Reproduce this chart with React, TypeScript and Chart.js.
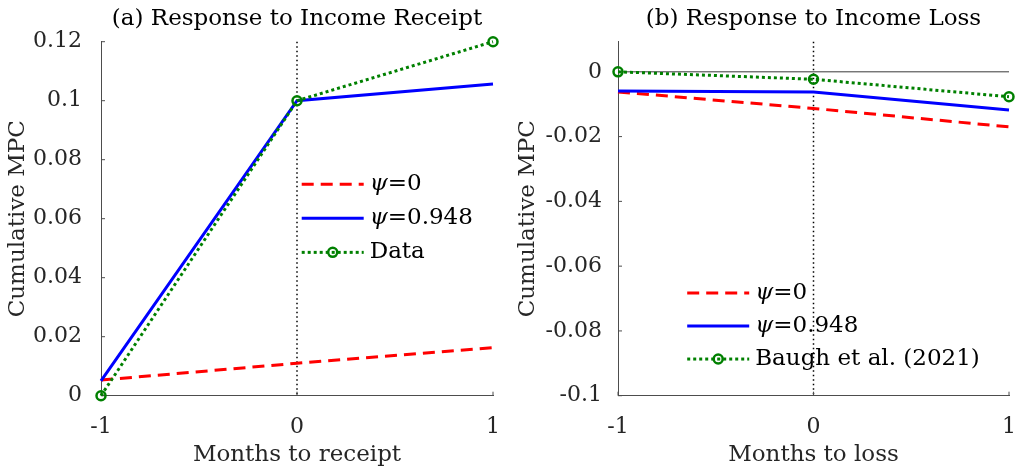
import React, { useEffect, useRef } from 'react';
import { Chart, registerables } from 'chart.js';

Chart.register(...registerables);

// ---------- data ----------
const months = [-1, 0, 1];
const xTicks = [-1, 0, 1];

const receiptPsi0 = [0.0053, 0.011, 0.0163];
const receiptPsi948 = [0.005, 0.1, 0.1057];
const receiptData = [0, 0.1, 0.12];
const receiptYTicks = [0, 0.02, 0.04, 0.06, 0.08, 0.1, 0.12];
const receiptLabels = ['ψ=0', 'ψ=0.948', 'Data'];

const lossPsi0 = [-0.0062, -0.0113, -0.017];
const lossPsi948 = [-0.0059, -0.0062, -0.0118];
const lossBaugh = [0, -0.0023, -0.0077];
const lossYTicks = [0, -0.02, -0.04, -0.06, -0.08, -0.1];
const lossLabels = ['ψ=0', 'ψ=0.948', 'Baugh et al. (2021)'];

// ---------- styles ----------
const FONT = '"DejaVu Serif", serif';
const AXIS_COLOR = '#4d4d4d';
const TEXT_COLOR = '#262626';
const RED = '#ff0000';
const BLUE = '#0000ff';
const GREEN = '#008000';
const W = 508;
const H = 471;

const seriesStyles = [
  { color: RED, dash: [12, 7], width: 3, marker: false },
  { color: BLUE, dash: [], width: 3, marker: false },
  { color: GREEN, dash: [3, 3], width: 3, marker: true },
];

const toPts = (ys: number[]) => months.map((x, i) => ({ x, y: ys[i] }));

const extrasPlugin = {
  id: 'extras',
  beforeDatasetsDraw(chart: any, _args: any, opts: any) {
    const { ctx, chartArea: ca, scales } = chart;
    const x = scales.x;
    const y = scales.y;
    ctx.save();
    if (opts.zeroLine) {
      const py = y.getPixelForValue(0);
      ctx.strokeStyle = '#3a3a3a';
      ctx.lineWidth = 1;
      ctx.beginPath();
      ctx.moveTo(ca.left, py);
      ctx.lineTo(ca.right, py);
      ctx.stroke();
    }
    const px = x.getPixelForValue(0);
    ctx.strokeStyle = '#000';
    ctx.lineWidth = 1.5;
    ctx.setLineDash([1.5, 3]);
    ctx.beginPath();
    ctx.moveTo(px, ca.top);
    ctx.lineTo(px, ca.bottom);
    ctx.stroke();
    ctx.setLineDash([]);
    ctx.strokeStyle = AXIS_COLOR;
    ctx.lineWidth = 1;
    ctx.beginPath();
    for (const t of y.ticks) {
      const ty = y.getPixelForValue(t.value);
      ctx.moveTo(ca.left, ty);
      ctx.lineTo(ca.left + 4, ty);
    }
    for (const t of x.ticks) {
      const tx = x.getPixelForValue(t.value);
      ctx.moveTo(tx, ca.bottom);
      ctx.lineTo(tx, ca.bottom - 4);
    }
    ctx.stroke();
    ctx.restore();
  },
  afterDraw(chart: any, _args: any, opts: any) {
    const { ctx, chartArea: ca } = chart;
    ctx.save();
    ctx.fillStyle = '#000';
    ctx.font = `23px ${FONT}`;
    ctx.textAlign = 'center';
    ctx.textBaseline = 'middle';
    ctx.fillText(opts.title, (ca.left + ca.right) / 2, 19);
    const w = ca.right - ca.left;
    const h = ca.bottom - ca.top;
    const x0 = ca.left + opts.legendX * w;
    const y0 = ca.top + opts.legendY * h;
    opts.labels.forEach((label: string, i: number) => {
      const st = seriesStyles[i];
      const yy = y0 + i * opts.legendGap;
      ctx.strokeStyle = st.color;
      ctx.lineWidth = st.width;
      ctx.setLineDash(st.dash);
      ctx.beginPath();
      ctx.moveTo(x0, yy);
      ctx.lineTo(x0 + 62, yy);
      ctx.stroke();
      ctx.setLineDash([]);
      if (st.marker) {
        ctx.lineWidth = 2.5;
        ctx.beginPath();
        ctx.arc(x0 + 31, yy, 4.5, 0, Math.PI * 2);
        ctx.stroke();
      }
      ctx.fillStyle = '#000';
      ctx.textAlign = 'left';
      ctx.textBaseline = 'middle';
      let tx = x0 + 68;
      let rest = label;
      if (label.startsWith('ψ')) {
        ctx.font = `italic 23px ${FONT}`;
        ctx.fillText('ψ', tx, yy);
        tx += ctx.measureText('ψ').width;
        rest = label.slice(1);
      }
      ctx.font = `23px ${FONT}`;
      ctx.fillText(rest, tx, yy);
    });
    ctx.restore();
  },
};

interface PanelSpec {
  title: string;
  xTitle: string;
  series: number[][];
  labels: string[];
  yTicks: number[];
  yMin: number;
  yMax: number;
  yWidth: number;
  rightPad: number;
  yTitlePad: number;
  yTickPad: number;
  zeroLine: boolean;
  legendX: number;
  legendY: number;
  legendGap: number;
}

function Panel({ spec, left }: { spec: PanelSpec; left: number }) {
  const ref = useRef<HTMLCanvasElement | null>(null);
  useEffect(() => {
    if (!ref.current) return;
    const datasets = spec.series.map((ys, i) => {
      const st = seriesStyles[i];
      return {
        label: spec.labels[i],
        data: toPts(ys),
        borderColor: st.color,
        borderWidth: st.width,
        borderDash: st.dash,
        borderCapStyle: 'butt',
        pointRadius: st.marker ? 4.5 : 0,
        pointBorderWidth: 2.5,
        pointBorderColor: st.color,
        pointBackgroundColor: 'rgba(0,0,0,0)',
        pointStyle: 'circle',
        tension: 0,
        clip: false,
        order: 2 - i,
        fill: false,
      };
    });
    const tickFont = { family: FONT, size: 22, lineHeight: 1 };
    const titleFont = { family: FONT, size: 23, lineHeight: 1 };
    const chart = new Chart(ref.current, {
      type: 'line',
      data: { datasets: datasets as any },
      plugins: [extrasPlugin as any],
      options: {
        animation: false,
        responsive: false,
        maintainAspectRatio: false,
        events: [],
        layout: { padding: { top: 41.7, right: spec.rightPad, left: 0, bottom: 0 } },
        plugins: {
          legend: { display: false },
          tooltip: { enabled: false },
          title: { display: false },
          extras: {
            title: spec.title,
            labels: spec.labels,
            zeroLine: spec.zeroLine,
            legendX: spec.legendX,
            legendY: spec.legendY,
            legendGap: spec.legendGap,
          },
        } as any,
        scales: {
          x: {
            type: 'linear',
            min: -1,
            max: 1,
            afterBuildTicks: (s: any) => {
              s.ticks = xTicks.map((v) => ({ value: v }));
            },
            afterFit: (s: any) => {
              s.height = H - 395.7;
              s.paddingLeft = 0;
              s.paddingRight = 0;
            },
            grid: { display: false },
            border: { display: true, color: AXIS_COLOR, width: 1 },
            ticks: {
              padding: 13,
              font: tickFont,
              color: TEXT_COLOR,
              maxRotation: 0,
              callback: (v: any) => String(v),
            },
            title: {
              display: true,
              text: spec.xTitle,
              font: titleFont,
              color: TEXT_COLOR,
              padding: { top: 0, bottom: 4.5 },
            },
          },
          y: {
            type: 'linear',
            min: spec.yMin,
            max: spec.yMax,
            afterBuildTicks: (s: any) => {
              s.ticks = spec.yTicks.map((v) => ({ value: v }));
            },
            afterFit: (s: any) => {
              s.width = spec.yWidth;
              s.paddingTop = 0;
              s.paddingBottom = 0;
            },
            grid: { display: false },
            border: { display: true, color: AXIS_COLOR, width: 1 },
            ticks: {
              padding: spec.yTickPad,
              font: tickFont,
              color: TEXT_COLOR,
              callback: (v: any) => String(Math.round(v * 1000) / 1000),
            },
            title: {
              display: true,
              text: 'Cumulative MPC',
              font: titleFont,
              color: TEXT_COLOR,
              padding: { top: spec.yTitlePad, bottom: 0 },
            },
          },
        },
      } as any,
    });
    return () => chart.destroy();
  }, [spec]);
  return (
    <canvas
      ref={ref}
      width={W}
      height={H}
      style={{ position: 'absolute', left, top: 0, width: W, height: H }}
    />
  );
}

const receiptSpec: PanelSpec = {
  title: '(a) Response to Income Receipt',
  xTitle: 'Months to receipt',
  series: [receiptPsi0, receiptPsi948, receiptData],
  labels: receiptLabels,
  yTicks: receiptYTicks,
  yMin: 0,
  yMax: 0.12,
  yWidth: 101,
  rightPad: W - 493,
  yTitlePad: 6.5,
  yTickPad: 11,
  zeroLine: false,
  legendX: 0.512,
  legendY: 0.403,
  legendGap: 34,
};

const lossSpec: PanelSpec = {
  title: '(b) Response to Income Loss',
  xTitle: 'Months to loss',
  series: [lossPsi0, lossPsi948, lossBaugh],
  labels: lossLabels,
  yTicks: lossYTicks,
  yMin: -0.1,
  yMax: 0.0093,
  yWidth: 110,
  rightPad: W - 502,
  yTitlePad: 8.5,
  yTickPad: 8,
  zeroLine: true,
  legendX: 0.177,
  legendY: 0.71,
  legendGap: 33,
};

export default function App() {
  return (
    <div
      style={{
        position: 'fixed',
        left: 0,
        top: 0,
        width: 1016,
        height: 471,
        background: '#fff',
        overflow: 'hidden',
      }}
    >
      <Panel spec={receiptSpec} left={0} />
      <Panel spec={lossSpec} left={508} />
    </div>
  );
}
